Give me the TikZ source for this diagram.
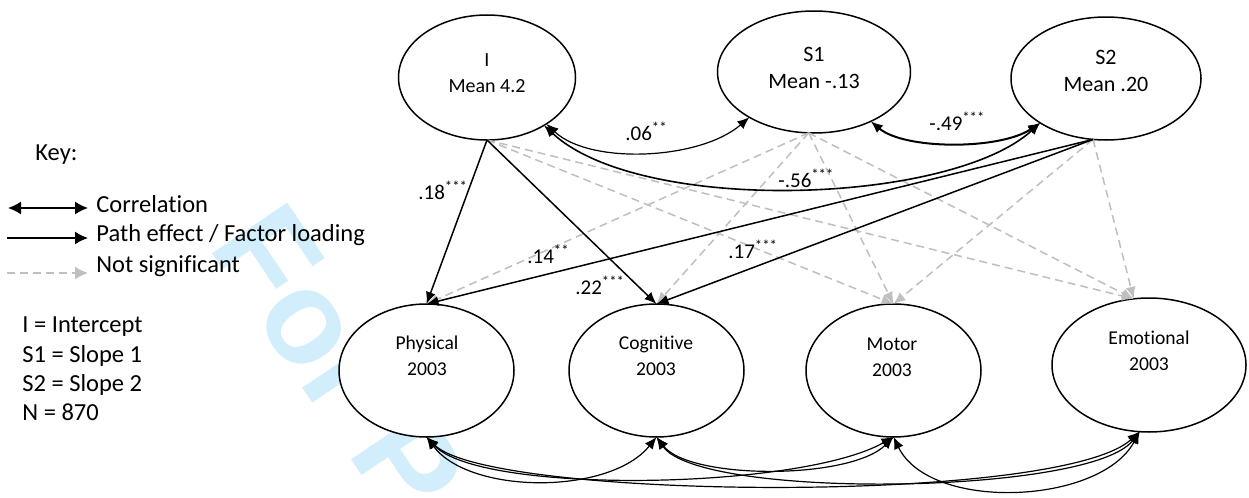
\documentclass[tikz,border=0pt]{standalone}
\usepackage{fontspec}
\setmainfont[Ligatures=NoCommon]{Carlito}
\newfontfamily\wmfont{Liberation Sans}
\usetikzlibrary{arrows.meta,shapes.geometric}
\definecolor{sigray}{RGB}{191,191,191}
\definecolor{wmcyan}{RGB}{210,238,252}
\begin{document}
\begin{tikzpicture}[x=0.5pt,y=-0.5pt,
  lat/.style={ellipse,draw,line width=0.75pt,fill=white,inner sep=0pt,outer sep=0pt},
  effarrow/.style={-{Latex[length=6pt,width=5pt]},line width=0.75pt,black},
  nsarrow/.style={-{Latex[length=6pt,width=5pt]},line width=0.75pt,sigray,dash pattern=on 4pt off 2.5pt},
  corr/.style={{Latex[length=6pt,width=5pt]}-{Latex[length=6pt,width=5pt]},line width=0.6pt},
  lbl/.style={font=\fontsize{10.5}{12}\selectfont,inner sep=0pt,anchor=base west},
  keytxt/.style={font=\fontsize{12.25}{14}\selectfont,inner sep=0pt,anchor=base west},
  lattxt/.style={align=center,inner sep=0pt}
]
\useasboundingbox (0,0) rectangle (1249,498);
\fill[white] (0,0) rectangle (1249,498);

% watermark
\node[font=\wmfont\bfseries\fontsize{66}{66}\selectfont,text=wmcyan,anchor=base west,rotate=-56,inner sep=0pt] (wm) at (207,246) {For Peer Review};

% latent variables
\node[lat,minimum width=88.5pt,minimum height=62.5pt] (I) at (487,77.5) {};
\node[lat,minimum width=96.5pt,minimum height=61pt] (S1) at (814,72) {};
\node[lat,minimum width=95pt,minimum height=61.5pt] (S2) at (1106,78.5) {};
\node[lat,minimum width=87.5pt,minimum height=66.5pt] (Ph) at (426.5,370.5) {};
\node[lat,minimum width=87.5pt,minimum height=66.5pt] (Co) at (656.5,370.5) {};
\node[lat,minimum width=87.5pt,minimum height=66.5pt] (Mo) at (893.5,370.5) {};
\node[lat,minimum width=97pt,minimum height=67pt] (Em) at (1149,365) {};

\node[lattxt,font=\fontsize{10}{13}\selectfont] (tI) at (487,73) {I\\Mean 4.2};
\node[lattxt,font=\fontsize{11}{13.5}\selectfont] (tS1) at (814,67.5) {S1\\Mean -.13};
\node[lattxt,font=\fontsize{11}{13.5}\selectfont] (tS2) at (1106,70.5) {S2\\Mean .20};
\node[lattxt,font=\fontsize{9.8}{13}\selectfont] (tPh) at (427,356) {Physical\\2003};
\node[lattxt,font=\fontsize{9.8}{13}\selectfont] (tCo) at (656,356) {Cognitive\\2003};
\node[lattxt,font=\fontsize{9.8}{13}\selectfont] (tMo) at (892,357) {Motor\\2003};
\node[lattxt,font=\fontsize{9.8}{13}\selectfont] (tEm) at (1149,351) {Emotional\\2003};

% not significant paths
\draw[nsarrow] (I.south) -- (Mo.north);
\draw[nsarrow] (I.south) -- (Em.103);
\draw[nsarrow] (S1.265) -- (Ph.north);
\draw[nsarrow] (S1.265) -- (Co.north);
\draw[nsarrow] (S1.265) -- (Mo.north);
\draw[nsarrow] (S1.265) -- (Em.103);
\draw[nsarrow] (S2.258) -- (Mo.north);
\draw[nsarrow] (S2.258) -- (Em.103);

% significant paths
\draw[effarrow] (I.south) -- (Ph.north);
\draw[effarrow] (I.south) -- (Co.north);
\draw[effarrow] (S2.258) -- (Ph.north);
\draw[effarrow] (S2.258) -- (Co.north);

% correlations among growth factors
\draw[corr] (I.-38) .. controls (590,165) and (700,160) .. (S1.215);
\draw[corr,line width=0.8pt] (I.-40) .. controls (640,215) and (950,205) .. (S2.214);
\draw[corr,line width=1pt] (S1.-41) .. controls (905,150) and (1000,150) .. (S2.214);

% correlations among 2003 factors
\draw[corr] (Ph.south) .. controls (470,495) and (610,495) .. (Co.south);
\draw[corr] (Ph.south) .. controls (480,495) and (800,490) .. (Mo.south);
\draw[corr] (Ph.south) .. controls (490,500) and (1060,505) .. (Em.262);
\draw[corr] (Co.south) .. controls (690,480) and (850,480) .. (Mo.south);
\draw[corr] (Co.south) .. controls (700,500) and (1090,495) .. (Em.262);
\draw[corr] (Mo.south) .. controls (930,512) and (1100,505) .. (Em.262);

% labels
\node[lbl] (l18) at (418,199) {.18\textsuperscript{***}};
\node[lbl] (l22) at (575,294) {.22\textsuperscript{***}};
\node[lbl] (l14) at (527,263) {.14\textsuperscript{**}};
\node[lbl] (l17) at (728,258) {.17\textsuperscript{***}};
\node[lbl] (l06) at (625,140) {.06\textsuperscript{**}};
\node[lbl] (l56) at (778,187) {-.56\textsuperscript{***}};
\node[lbl] (l49) at (929,130) {-.49\textsuperscript{***}};

% key
\node[keytxt] (key) at (35,160) {Key:};
\coordinate (k1a) at (8,208);
\coordinate (k1b) at (88,208);
\coordinate (k2a) at (7,238);
\coordinate (k2b) at (88,238);
\coordinate (k3a) at (7,273);
\coordinate (k3b) at (88,273);
\draw[line width=0.75pt,{Latex[length=6.5pt,width=6.5pt]}-{Latex[length=6.5pt,width=6.5pt]}] (k1a) -- (k1b);
\draw[line width=0.75pt,-{Latex[length=6.5pt,width=6.5pt]}] (k2a) -- (k2b);
\draw[line width=0.75pt,sigray,dash pattern=on 4pt off 2.5pt,-{Latex[length=6.5pt,width=6.5pt]}] (k3a) -- (k3b);
\node[keytxt] (kt1) at (96,212) {Correlation};
\node[keytxt] (kt2) at (96,241) {Path effect / Factor loading};
\node[keytxt] (kt3) at (96,272) {Not significant};
\node[keytxt] (n1) at (22,332) {I = Intercept};
\node[keytxt] (n2) at (22,362) {S1 = Slope 1};
\node[keytxt] (n3) at (22,391) {S2 = Slope 2};
\node[keytxt] (n4) at (22,420) {N = 870};
\end{tikzpicture}
\end{document}
